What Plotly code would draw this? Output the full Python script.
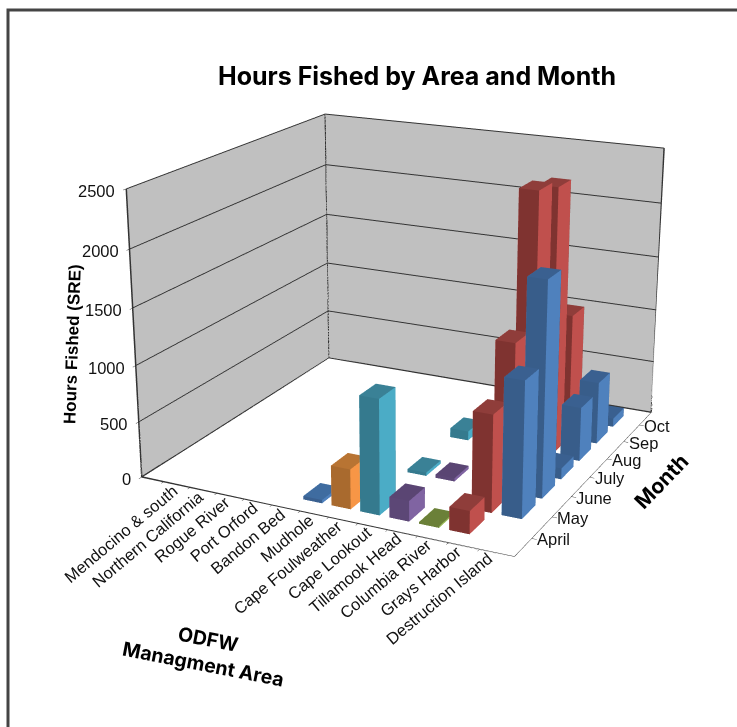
import plotly.graph_objects as go

areas = ["Mendocino & south", "Northern California", "Rogue River", "Port Orford", "Bandon Bed",
         "Mudhole", "Cape Foulweather", "Cape Lookout", "Tillamook Head", "Columbia River",
         "Grays Harbor", "Destruction Island"]
months = ["April", "May", "June", "July", "Aug", "Sep", "Oct"]
hours_ticks = [0, 500, 1000, 1500, 2000, 2500]

mudhole = [30, 0, 0, 0, 0, 0, 0]
cape_foulweather = [350, 0, 0, 0, 0, 0, 0]
cape_lookout = [1000, 0, 30, 0, 85, 0, 0]
tillamook_head = [180, 0, 30, 0, 0, 0, 0]
columbia_river = [15, 0, 0, 0, 0, 0, 0]
grays_harbor = [200, 850, 1310, 2470, 2400, 1150, 0]
destruction_island = [0, 1180, 1880, 100, 490, 570, 80]

series = [
    (5, mudhole, ("#3A6090", "#4F81BD", "#3F6CA0")),
    (6, cape_foulweather, ("#A96A2E", "#F79646", "#B87433")),
    (7, cape_lookout, ("#357A8E", "#4BACC6", "#3A8196")),
    (8, tillamook_head, ("#5C4776", "#8064A2", "#5A4573")),
    (9, columbia_river, ("#6B8038", "#9BBB59", "#6B8038")),
    (10, grays_harbor, ("#7F3330", "#C0504D", "#8F3D3A")),
    (11, destruction_island, ("#385D8A", "#4F81BD", "#3A6090")),
]

# The canvas is larger than the window and shifted, which gives the flatter perspective of the reference.
W, H = 1415, 1396
OX, OY = -(W - 737) // 2 + 40, -(H - 727) // 2 - 54
XR = [-0.35, 12.6]
YR = [-0.3, 7.3]
ZR = [0, 2500]


def px(x):
    return (x - OX) / W


def py(y):
    return 1 - (y - OY) / H


BAR = 0.67
fig = go.Figure()
for col, values, (front, side, top) in series:
    xs, ys, zs, i, j, k, fc = [], [], [], [], [], [], []
    for row, v in enumerate(values):
        if v <= 0:
            continue
        x0, x1 = col + (1 - BAR) / 2, col + (1 + BAR) / 2
        y0, y1 = row + (1 - BAR) / 2, row + (1 + BAR) / 2
        n = len(xs)
        xs += [x0, x1, x1, x0, x0, x1, x1, x0]
        ys += [y0, y0, y1, y1, y0, y0, y1, y1]
        zs += [0, 0, 0, 0, v, v, v, v]
        faces = [(0, 1, 5, front), (0, 5, 4, front), (1, 2, 6, side), (1, 6, 5, side),
                 (4, 5, 6, top), (4, 6, 7, top), (2, 3, 7, front), (2, 7, 6, front),
                 (3, 0, 4, side), (3, 4, 7, side)]
        for a, b, c, color in faces:
            i.append(n + a); j.append(n + b); k.append(n + c); fc.append(color)
    fig.add_trace(go.Mesh3d(x=xs, y=ys, z=zs, i=i, j=j, k=k, facecolor=fc, flatshading=True,
                            lighting=dict(ambient=1, diffuse=0, specular=0, roughness=1, fresnel=0),
                            hoverinfo="skip", showscale=False))

# frame edges of the walls and floor
fig.add_trace(go.Scatter3d(
    x=[XR[0], XR[0], None, XR[0], XR[0], None, XR[1], XR[1], None, XR[0], XR[1], None, XR[0], XR[0], None, XR[0], XR[1]],
    y=[YR[0], YR[0], None, YR[1], YR[1], None, YR[1], YR[1], None, YR[0], YR[0], None, YR[0], YR[1], None, YR[1], YR[1]],
    z=[ZR[0], ZR[1], None, ZR[0], ZR[1], None, ZR[0], ZR[1], None, ZR[0], ZR[0], None, ZR[0], ZR[0], None, ZR[0], ZR[0]],
    mode="lines", line=dict(color="#333", width=3), hoverinfo="skip", showlegend=False))

label_font = dict(family="Liberation Sans, Arial, sans-serif", size=16.5, color="#111")
annotations = [dict(x=n + 0.5, y=YR[0], z=0, text=name, showarrow=False, textangle=-40,
                    xanchor="right", yanchor="top", xshift=19, yshift=3, font=label_font)
               for n, name in enumerate(areas)]
annotations += [dict(x=XR[1], y=n + 0.5, z=0, text=name, showarrow=False,
                     xanchor="left", yanchor="middle", xshift=3, yshift=-1, font=label_font)
                for n, name in enumerate(months)]
annotations += [dict(x=XR[0], y=YR[0], z=v, text=str(v), showarrow=False,
                     xanchor="right", yanchor="middle", xshift=-9, yshift=-2, font=label_font)
                for v in hours_ticks]

fig.update_layout(
    width=W, height=H, margin=dict(l=0, r=0, t=0, b=0),
    paper_bgcolor="white", showlegend=False,
    title=dict(text="<b>Hours Fished by Area and Month</b>", x=px(417), y=py(76),
               xanchor="center", yanchor="middle",
               font=dict(family="Inter, Liberation Sans, sans-serif", size=25, color="black")),
    scene=dict(
        domain=dict(x=[0, 1], y=[0, 1]),
        aspectmode="manual", aspectratio=dict(x=1, y=0.97, z=0.735),
        camera=dict(eye=dict(x=1.78, y=-3.65, z=1.33), center=dict(x=0, y=0, z=0), up=dict(x=0, y=0, z=1),
                    projection=dict(type="perspective")),
        annotations=annotations,
        bgcolor="white",
        xaxis=dict(range=XR, tickmode="array", tickvals=[n + 0.5 for n in range(12)], ticktext=[""] * 12,
                   ticks="outside", ticklen=4, tickcolor="#333", showgrid=False, showline=True, linecolor="#333",
                   showbackground=True, backgroundcolor="#C0C0C0", title=dict(text=""), zeroline=False,
                   showspikes=False),
        yaxis=dict(range=YR, tickmode="array", tickvals=[n + 0.5 for n in range(7)], ticktext=[""] * 7,
                   ticks="outside", ticklen=4, tickcolor="#333", showgrid=False, showline=True, linecolor="#333",
                   showbackground=True, backgroundcolor="#C0C0C0", title=dict(text=""), zeroline=False,
                   showspikes=False),
        zaxis=dict(range=ZR, tickvals=hours_ticks, ticktext=[""] * 6, tickmode="array",
                   gridcolor="#333", gridwidth=2,
                   ticks="outside", ticklen=4, tickcolor="#333",
                   showline=True, linecolor="#333", showbackground=True, backgroundcolor="white",
                   title=dict(text=""), zeroline=False, showspikes=False),
    ),
    shapes=[dict(type="rect", xref="paper", yref="paper", x0=px(8), x1=px(780), y0=py(780), y1=py(10),
                 line=dict(color="#444", width=3))],
    annotations=[
        dict(x=px(72), y=py(344), xref="paper", yref="paper", text="<b>Hours Fished (SRE)</b>",
             xanchor="center", yanchor="middle",
             textangle=-88, showarrow=False, font=dict(family="Liberation Sans, Arial", size=17, color="black")),
        dict(x=px(661), y=py(481), xref="paper", yref="paper", text="<b>Month</b>",
             xanchor="center", yanchor="middle",
             textangle=-46, showarrow=False, font=dict(family="Inter, Liberation Sans", size=21, color="black")),
        dict(x=px(206), y=py(651), xref="paper", yref="paper",
             text="<b>ODFW<br>Managment Area</b>", textangle=11, showarrow=False,
             xanchor="center", yanchor="middle",
             font=dict(family="Inter, Liberation Sans", size=19.5, color="black")),
    ],
)

fig.write_html("out.html", config=dict(displayModeBar=False),
               post_script=("document.documentElement.style.overflow='hidden';"
                            "document.body.style.margin='0';document.body.style.overflow='hidden';"
                            f"var g=document.querySelector('.plotly-graph-div');g.style.marginLeft='{OX}px';"
                            f"g.style.marginTop='{OY}px';"))
